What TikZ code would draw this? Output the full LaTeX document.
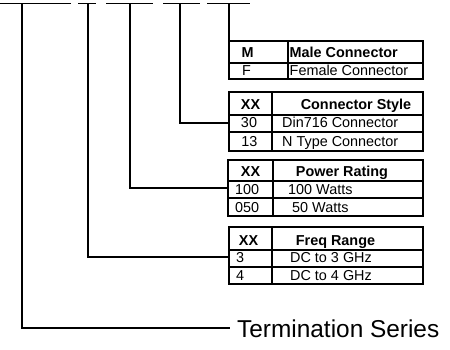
\documentclass[tikz,border=0pt]{standalone}
\usepackage{fontspec}
\setmainfont{Liberation Sans}
\begin{document}
\begin{tikzpicture}[x=1pt,y=-1pt,
  tbl/.style={line width=1.1pt},
  conn/.style={line width=1.7pt},
  txt/.style={font=\fontsize{14.4}{16}\selectfont, inner sep=0pt},
  hd/.style={font=\fontsize{14.4}{16}\selectfont\bfseries, inner sep=0pt},
  big/.style={font=\fontsize{24.4}{28}\selectfont, inner sep=0pt}]
\useasboundingbox (0,0) rectangle (450,350);

% top bars
\coordinate (s1a) at (0,3.5);   \coordinate (s1b) at (71,3.5);
\coordinate (s2a) at (78,3.5);  \coordinate (s2b) at (96,3.5);
\coordinate (s3a) at (106,3.5); \coordinate (s3b) at (153,3.5);
\coordinate (s4a) at (163,3.5); \coordinate (s4b) at (200,3.5);
\coordinate (s5a) at (207,3.5); \coordinate (s5b) at (250,3.5);
\foreach \i in {1,...,5} \draw[conn] (s\i a) -- (s\i b);

% table 1
\draw[tbl] (229,41) rectangle (423,79);
\draw[tbl] (229,63) -- (423,63);
\draw[tbl] (288,41) -- (288,79);
\node[hd, anchor=base] (t1h1) at (247.5,58) {M};
\node[hd, anchor=base west] (t1h2) at (289.5,58) {Male Connector};
\node[txt, anchor=base west] (t1a1) at (242,76) {F};
\node[txt, anchor=base west] (t1a2) at (289.5,76) {Female Connector};
\coordinate (in1) at (229,41);

% table 2
\draw[tbl] (229,92) rectangle (423,151);
\draw[tbl] (229,115) -- (423,115);
\draw[tbl] (229,132) -- (423,132);
\draw[tbl] (272,92) -- (272,151);
\node[hd, anchor=base] (t2h1) at (250.5,110) {XX};
\node[hd, anchor=base] (t2h2) at (356,110) {Connector Style};
\node[txt, anchor=base] (t2a1) at (249,128) {30};
\node[txt, anchor=base west] (t2a2) at (282,128) {Din716 Connector};
\node[txt, anchor=base] (t2b1) at (249.5,146.5) {13};
\node[txt, anchor=base west] (t2b2) at (282,146.5) {N Type Connector};
\coordinate (in2) at (229,123);

% table 3
\draw[tbl] (228,160) rectangle (423,216);
\draw[tbl] (228,181) -- (423,181);
\draw[tbl] (228,198) -- (423,198);
\draw[tbl] (273,160) -- (273,216);
\node[hd, anchor=base] (t3h1) at (250.5,177) {XX};
\node[hd, anchor=base] (t3h2) at (342,177) {Power Rating};
\node[txt, anchor=base west] (t3a1) at (235,194.5) {100};
\node[txt, anchor=base west] (t3a2) at (288,194.5) {100 Watts};
\node[txt, anchor=base west] (t3b1) at (235,212.5) {050};
\node[txt, anchor=base west] (t3b2) at (292,212.5) {50 Watts};
\coordinate (in3) at (228,188);

% table 4
\draw[tbl] (229,227) rectangle (423,284);
\draw[tbl] (229,250) -- (423,250);
\draw[tbl] (229,267) -- (423,267);
\draw[tbl] (272,227) -- (272,284);
\node[hd, anchor=base] (t4h1) at (248.5,245) {XX};
\node[hd, anchor=base] (t4h2) at (335.5,245) {Freq Range};
\node[txt, anchor=base west] (t4a1) at (236,262.5) {3};
\node[txt, anchor=base west] (t4a2) at (290,262.5) {DC to 3 GHz};
\node[txt, anchor=base west] (t4b1) at (236,280) {4};
\node[txt, anchor=base west] (t4b2) at (290,280) {DC to 4 GHz};
\coordinate (in4) at (229,257);

% termination series
\node[big, anchor=base west] (term) at (237,337) {Termination Series};
\coordinate (in5) at (230,328);

% connectors
\coordinate (d5) at (229,3.5);
\coordinate (d4) at (180,3.5);
\coordinate (d3) at (130,3.5);
\coordinate (d2) at (88,3.5);
\coordinate (d1) at (22,3.5);
\draw[conn] (d5) -- (in1);
\draw[conn] (d4) |- (in2);
\draw[conn] (d3) |- (in3);
\draw[conn] (d2) |- (in4);
\draw[conn] (d1) |- (in5);
\end{tikzpicture}
\end{document}
